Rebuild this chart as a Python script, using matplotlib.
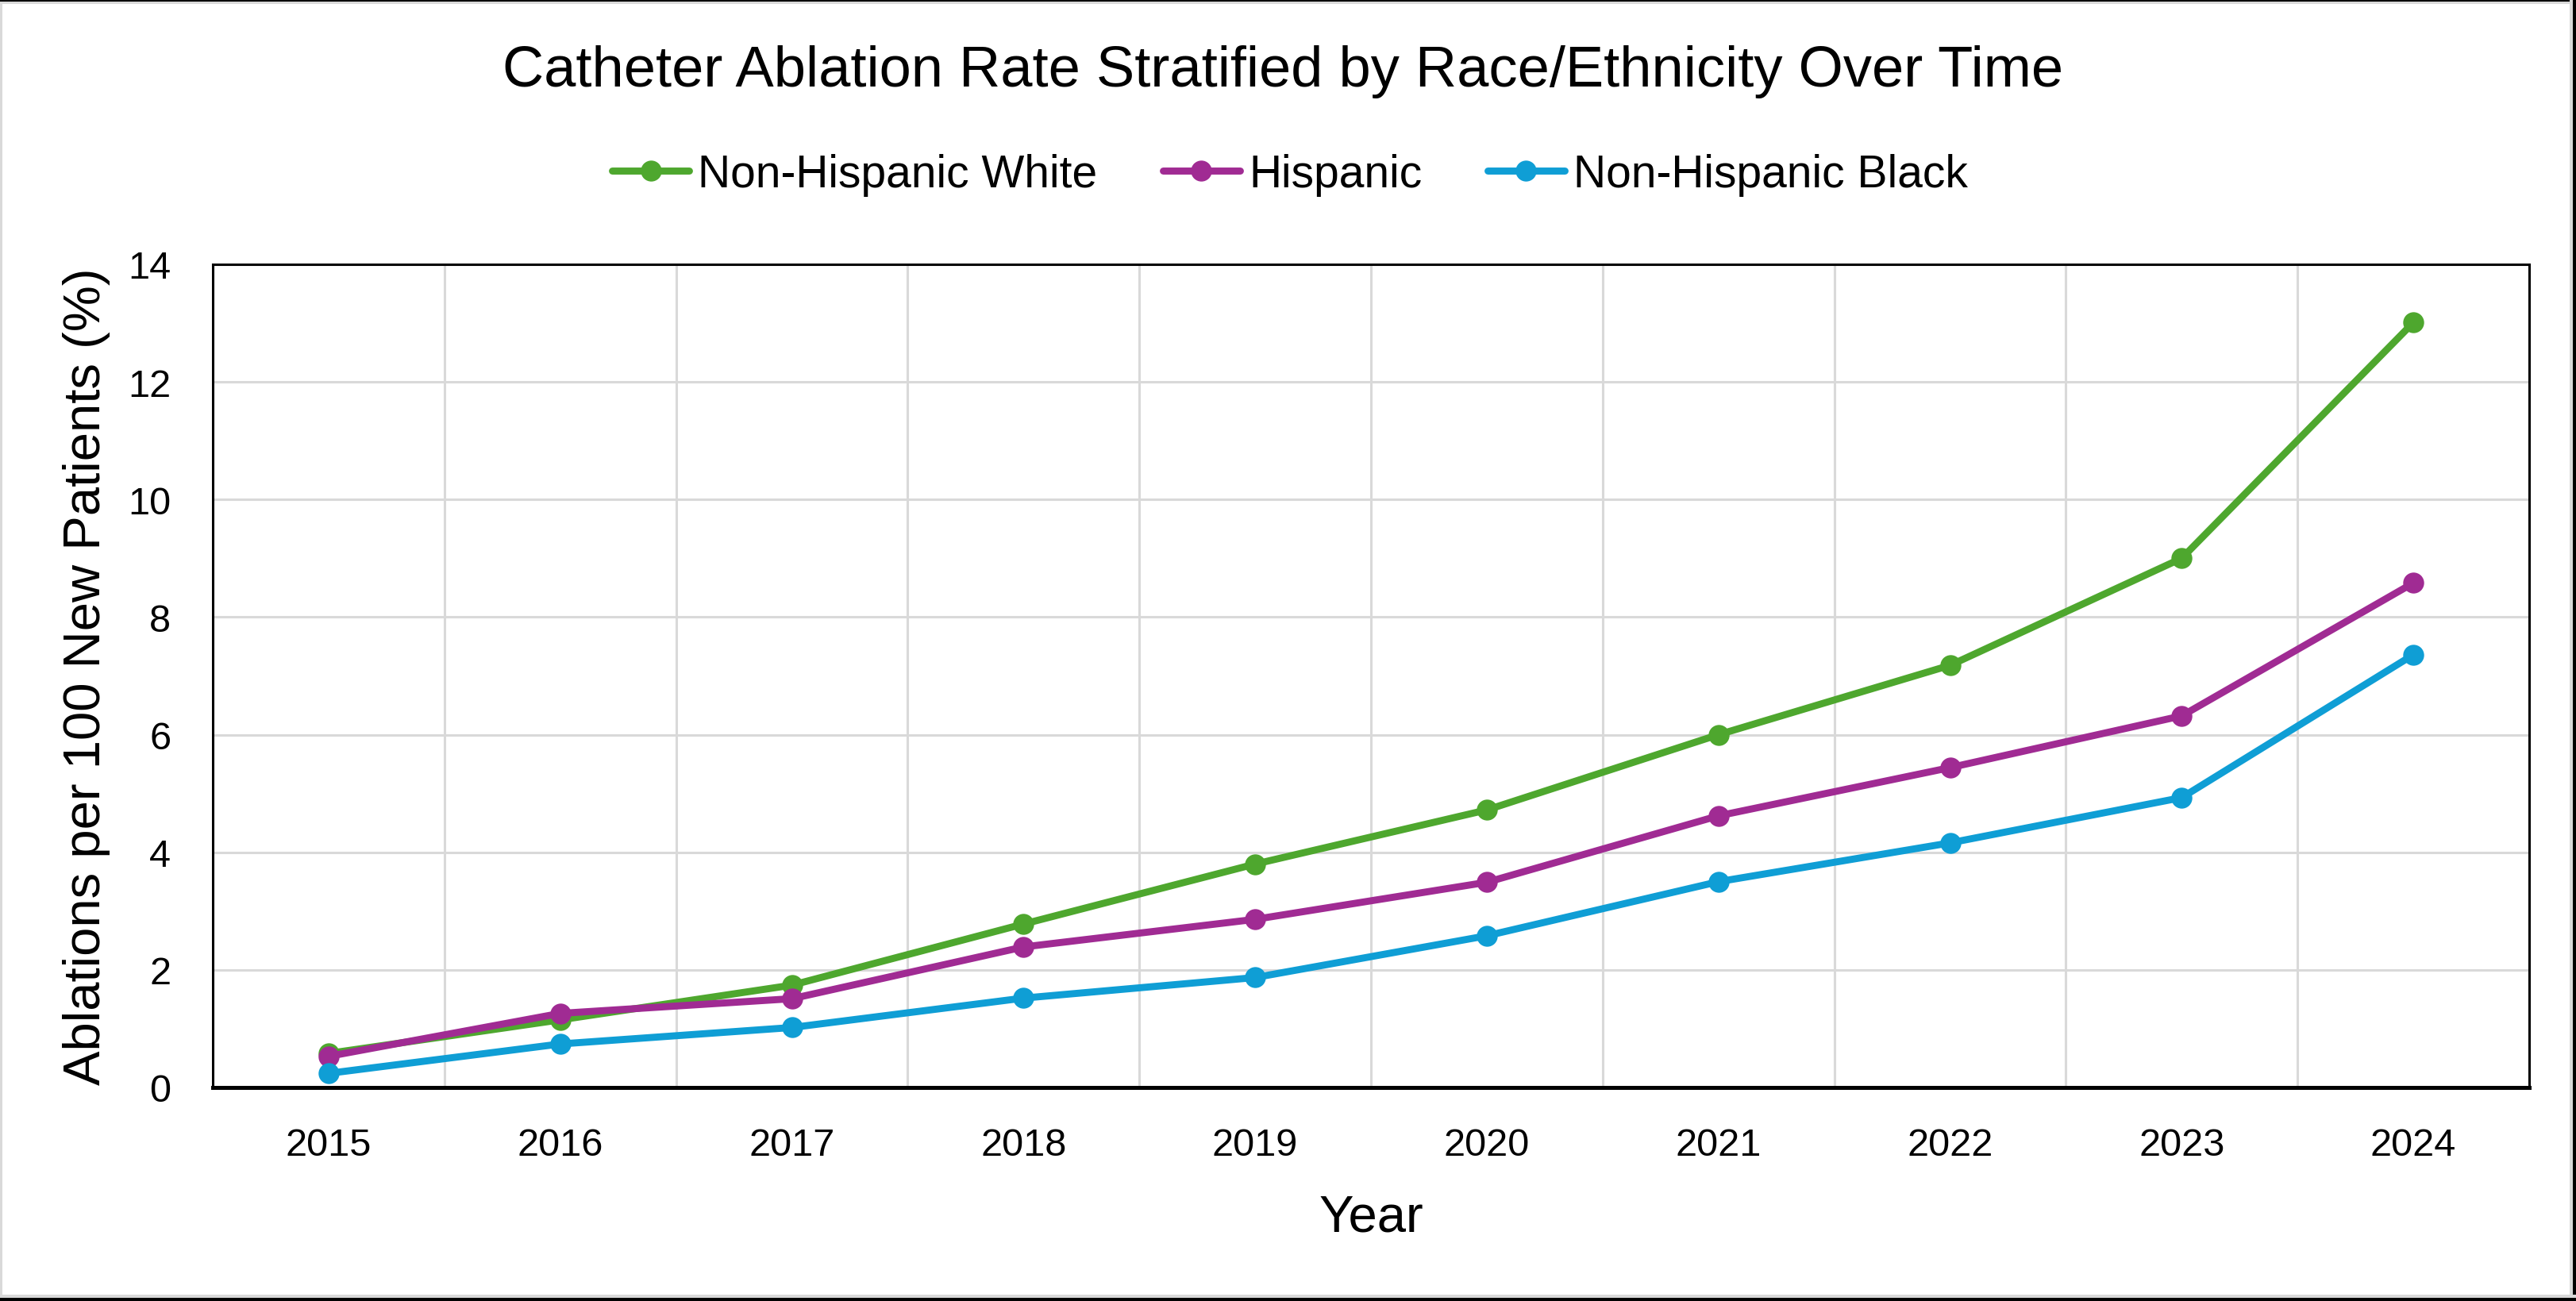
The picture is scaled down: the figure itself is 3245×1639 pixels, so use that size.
import matplotlib
matplotlib.use("Agg")
import matplotlib.pyplot as plt
from matplotlib.patches import Rectangle
from matplotlib.ticker import FixedLocator

years = [2015, 2016, 2017, 2018, 2019, 2020, 2021, 2022, 2023, 2024]
white = [0.58, 1.15, 1.74, 2.78, 3.80, 4.72, 6.00, 7.18, 9.00, 13.01]
hispanic = [0.53, 1.26, 1.51, 2.39, 2.86, 3.49, 4.62, 5.44, 6.32, 8.58]
black = [0.24, 0.74, 1.02, 1.52, 1.87, 2.58, 3.50, 4.16, 4.93, 7.36]
series_names = ["Non-Hispanic White", "Hispanic", "Non-Hispanic Black"]
colors = ["#4EA72E", "#A02B93", "#0F9ED5"]
yticks = [0, 2, 4, 6, 8, 10, 12, 14]

plt.rcParams['font.family'] = ['Liberation Sans', 'DejaVu Sans']

W, H = 3245, 1640
dpi = 200
fig = plt.figure(figsize=(W / dpi, H / dpi), dpi=dpi)
fig.patch.set_facecolor("white")

ax = fig.add_axes([268 / W, 1 - 1371 / H, (3186 - 268) / W, (1371 - 334) / H])

for vals, name, c in zip([white, hispanic, black], series_names, colors):
    ax.plot(years, vals, color=c, lw=3.2, marker="o", markersize=8.5,
            label=name, solid_capstyle="round", zorder=3)

ax.set_xlim(years[0] - 0.5, years[-1] + 0.5)
ax.set_ylim(0, 14)
ax.set_xticks(years)
ax.set_xticklabels([str(y) for y in years])
ax.set_yticks(yticks)
ax.xaxis.set_minor_locator(FixedLocator([y + 0.5 for y in years[:-1]]))
ax.grid(which="major", axis="y", color="#d9d9d9", lw=1.1, zorder=0)
ax.grid(which="minor", axis="x", color="#d9d9d9", lw=1.1, zorder=0)
ax.tick_params(which="both", length=0)
ax.tick_params(axis="x", pad=18, labelsize=17.5)
ax.tick_params(axis="y", pad=19, labelsize=17.5)
for s in ["top", "left", "right"]:
    ax.spines[s].set_linewidth(1.1)
ax.spines["bottom"].set_linewidth(1.8)
ax.set_axisbelow(True)

ax.set_xlabel("Year", fontsize=23.5, labelpad=14)
ax.set_ylabel("Ablations per 100 New Patients (%)", fontsize=23.5, labelpad=8)

fig.text(0.498, 1 - 90 / H, "Catheter Ablation Rate Stratified by Race/Ethnicity Over Time",
         ha="center", va="center", fontsize=26)

handles, labels = ax.get_legend_handles_labels()
fig.legend(handles, labels, loc="center", bbox_to_anchor=(0.5008, 1 - 221 / H), ncol=3,
           frameon=False, fontsize=20.5, handlelength=1.7, handletextpad=0.2,
           columnspacing=1.45)

# outer frame
def rect(x, y, w, h, c):
    fig.add_artist(Rectangle((x / W, 1 - (y + h) / H), w / W, h / H,
                             transform=fig.transFigure, color=c, lw=0, zorder=10))

rect(0, 0, 3, H, "#d9d9d9")
rect(0, 3, W, 3, "#d9d9d9")
rect(0, 0, W, 3, "#000000")
rect(W - 8, 0, 4, H, "#d9d9d9")
rect(W - 4, 0, 4, H, "#000000")
rect(0, H - 8, W, 4, "#d9d9d9")
rect(0, H - 4, W, 4, "#000000")

fig.savefig("out.png", dpi=dpi)
